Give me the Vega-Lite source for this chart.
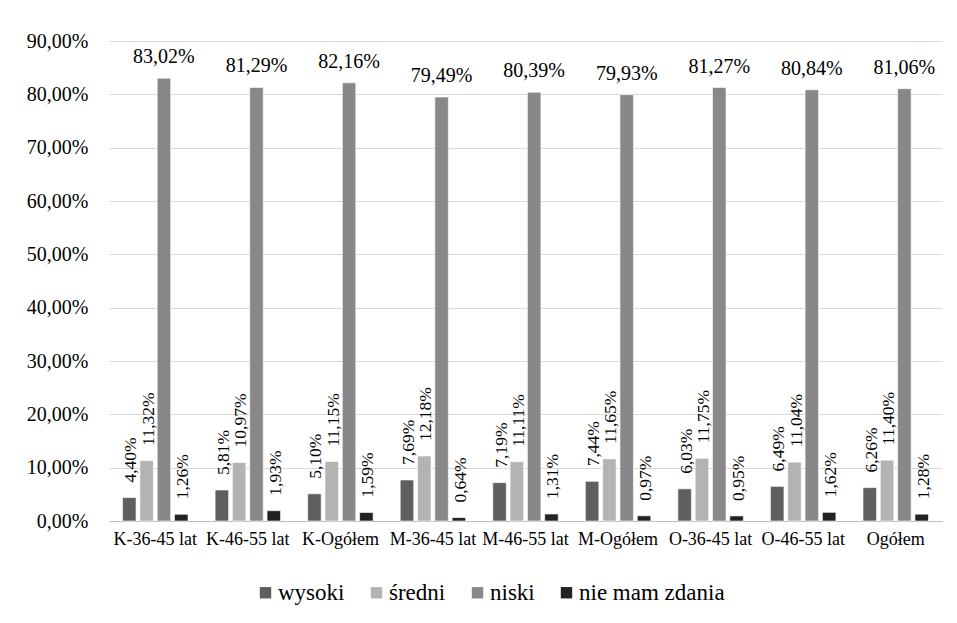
{
  "$schema": "https://vega.github.io/schema/vega-lite/v6.json",
  "width": 833,
  "height": 480,
  "autosize": {"type": "none"},
  "padding": {"left": 109, "top": 41, "right": 15, "bottom": 102},
  "background": "#ffffff",
  "config": {
    "locale": {"number": {"decimal": ",", "thousands": " ", "grouping": [3], "currency": ["", " zł"]}},
    "view": {"stroke": null},
    "font": "Liberation Serif",
    "text": {"font": "Liberation Serif"},
    "axis": {"labelFont": "Liberation Serif", "labelColor": "#000000"},
    "legend": {"labelFont": "Liberation Serif", "labelColor": "#000000"}
  },
  "data": {
    "values": [
      {"grupa": "K-36-45 lat", "ocena": "wysoki", "v": 0.0440},
      {"grupa": "K-36-45 lat", "ocena": "średni", "v": 0.1132},
      {"grupa": "K-36-45 lat", "ocena": "niski", "v": 0.8302},
      {"grupa": "K-36-45 lat", "ocena": "nie mam zdania", "v": 0.0126},
      {"grupa": "K-46-55 lat", "ocena": "wysoki", "v": 0.0581},
      {"grupa": "K-46-55 lat", "ocena": "średni", "v": 0.1097},
      {"grupa": "K-46-55 lat", "ocena": "niski", "v": 0.8129},
      {"grupa": "K-46-55 lat", "ocena": "nie mam zdania", "v": 0.0193},
      {"grupa": "K-Ogółem", "ocena": "wysoki", "v": 0.0510},
      {"grupa": "K-Ogółem", "ocena": "średni", "v": 0.1115},
      {"grupa": "K-Ogółem", "ocena": "niski", "v": 0.8216},
      {"grupa": "K-Ogółem", "ocena": "nie mam zdania", "v": 0.0159},
      {"grupa": "M-36-45 lat", "ocena": "wysoki", "v": 0.0769},
      {"grupa": "M-36-45 lat", "ocena": "średni", "v": 0.1218},
      {"grupa": "M-36-45 lat", "ocena": "niski", "v": 0.7949},
      {"grupa": "M-36-45 lat", "ocena": "nie mam zdania", "v": 0.0064},
      {"grupa": "M-46-55 lat", "ocena": "wysoki", "v": 0.0719},
      {"grupa": "M-46-55 lat", "ocena": "średni", "v": 0.1111},
      {"grupa": "M-46-55 lat", "ocena": "niski", "v": 0.8039},
      {"grupa": "M-46-55 lat", "ocena": "nie mam zdania", "v": 0.0131},
      {"grupa": "M-Ogółem", "ocena": "wysoki", "v": 0.0744},
      {"grupa": "M-Ogółem", "ocena": "średni", "v": 0.1165},
      {"grupa": "M-Ogółem", "ocena": "niski", "v": 0.7993},
      {"grupa": "M-Ogółem", "ocena": "nie mam zdania", "v": 0.0097},
      {"grupa": "O-36-45 lat", "ocena": "wysoki", "v": 0.0603},
      {"grupa": "O-36-45 lat", "ocena": "średni", "v": 0.1175},
      {"grupa": "O-36-45 lat", "ocena": "niski", "v": 0.8127},
      {"grupa": "O-36-45 lat", "ocena": "nie mam zdania", "v": 0.0095},
      {"grupa": "O-46-55 lat", "ocena": "wysoki", "v": 0.0649},
      {"grupa": "O-46-55 lat", "ocena": "średni", "v": 0.1104},
      {"grupa": "O-46-55 lat", "ocena": "niski", "v": 0.8084},
      {"grupa": "O-46-55 lat", "ocena": "nie mam zdania", "v": 0.0162},
      {"grupa": "Ogółem", "ocena": "wysoki", "v": 0.0626},
      {"grupa": "Ogółem", "ocena": "średni", "v": 0.1140},
      {"grupa": "Ogółem", "ocena": "niski", "v": 0.8106},
      {"grupa": "Ogółem", "ocena": "nie mam zdania", "v": 0.0128}
    ]
  },
  "encoding": {
    "x": {
      "field": "grupa", "type": "nominal", "sort": null,
      "scale": {"paddingInner": 0.293, "paddingOuter": 0.1465},
      "axis": {"title": null, "labelAngle": 0, "labelFontSize": 18, "labelPadding": 9, "ticks": false, "domainColor": "#bfbfbf", "domainWidth": 1.2, "grid": false}
    },
    "xOffset": {
      "field": "ocena", "type": "nominal",
      "sort": ["wysoki", "średni", "niski", "nie mam zdania"],
      "scale": {"paddingInner": 0.22, "paddingOuter": 0}
    },
    "y": {
      "field": "v", "type": "quantitative",
      "scale": {"domain": [0, 0.9], "nice": false},
      "axis": {"title": null, "format": ".2%", "values": [0, 0.1, 0.2, 0.3, 0.4, 0.5, 0.6, 0.7, 0.8, 0.9], "labelFontSize": 20, "labelPadding": 21, "ticks": false, "domain": false, "gridColor": "#d9d9d9", "gridWidth": 1}
    }
  },
  "layer": [
    {
      "mark": {"type": "bar", "stroke": "#ffffff", "strokeWidth": 0.6},
      "encoding": {
        "color": {
          "field": "ocena", "type": "nominal",
          "scale": {"domain": ["wysoki", "średni", "niski", "nie mam zdania"], "range": ["#5f5f5f", "#b3b3b3", "#888888", "#222222"]},
          "legend": {"title": null, "orient": "none", "direction": "horizontal", "legendX": 145, "legendY": 540, "symbolType": "square", "symbolSize": 130, "symbolStrokeWidth": 0, "labelFontSize": 23, "labelOffset": 1, "columnPadding": 20}
        }
      }
    },
    {
      "transform": [{"filter": "datum.ocena === 'niski'"}],
      "mark": {"type": "text", "baseline": "alphabetic", "align": "center", "dy": -15, "fontSize": 20, "color": "#000000"},
      "encoding": {"text": {"field": "v", "type": "quantitative", "format": ".2%"}}
    },
    {
      "transform": [{"filter": "datum.ocena !== 'niski'"}],
      "mark": {"type": "text", "angle": 270, "baseline": "middle", "align": "left", "dx": 15, "dy": 2, "fontSize": 17.5, "color": "#000000"},
      "encoding": {"text": {"field": "v", "type": "quantitative", "format": ".2%"}}
    }
  ]
}
